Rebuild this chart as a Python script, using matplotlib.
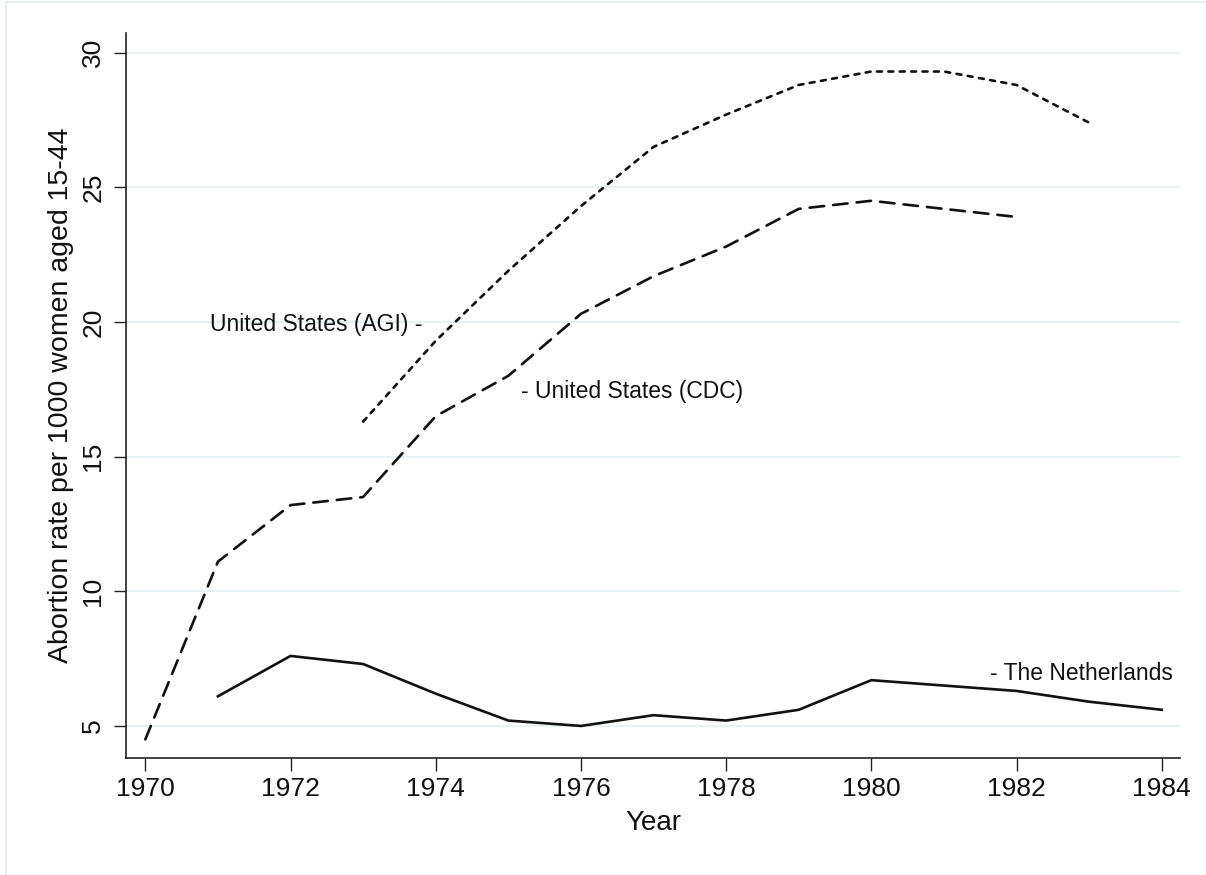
import matplotlib
matplotlib.use("Agg")
import matplotlib.pyplot as plt
from matplotlib.lines import Line2D

plt.rcParams['font.family'] = ['Liberation Sans', 'DejaVu Sans']
plt.rcParams['lines.scale_dashes'] = False

# Data
nl_years = list(range(1971, 1985))
nl_rate = [6.1, 7.6, 7.3, 6.2, 5.2, 5.0, 5.4, 5.2, 5.6, 6.7, 6.5, 6.3, 5.9, 5.6]
cdc_years = list(range(1970, 1983))
cdc_rate = [4.5, 11.1, 13.2, 13.5, 16.5, 18.0, 20.3, 21.7, 22.8, 24.2, 24.5, 24.2, 23.9]
agi_years = list(range(1973, 1984))
agi_rate = [16.3, 19.3, 21.9, 24.3, 26.5, 27.7, 28.8, 29.3, 29.3, 28.8, 27.4]

x_ticks = list(range(1970, 1985, 2))
y_ticks = [5, 10, 15, 20, 25, 30]

fig = plt.figure(figsize=(12.06, 8.75), dpi=100)
fig.patch.set_facecolor('white')

# faint outer frame of the graph region
border = '#E3EBEE'
fig.add_artist(Line2D([6/1206, 6/1206], [0, 1 - 2/875], color=border, lw=1.2))
fig.add_artist(Line2D([6/1206, 1], [1 - 2/875, 1 - 2/875], color=border, lw=1.2))

ax = fig.add_axes([126/1206, 1 - 758/875, (1180 - 126)/1206, (758 - 33)/875])

ink = '#111111'
ax.plot(nl_years, nl_rate, color=ink, lw=1.9, solid_joinstyle='round')
ax.plot(cdc_years, cdc_rate, color=ink, lw=1.9, linestyle=(0, (10.5, 6.5)),
        dash_capstyle='round', dash_joinstyle='round')
ax.plot(agi_years, agi_rate, color=ink, lw=1.9, linestyle=(0, (3.6, 4.6)),
        dash_capstyle='round', dash_joinstyle='round')

ax.set_xlim(1969.734, 1984.252)
ax.set_ylim(3.81, 30.73)
ax.set_xticks(x_ticks)
ax.set_yticks(y_ticks)

ax.yaxis.grid(True, color='#EAF1F4', lw=1.6)
ax.set_axisbelow(True)

for s in ['top', 'right']:
    ax.spines[s].set_visible(False)
for s in ['left', 'bottom']:
    ax.spines[s].set_color('#222222')
    ax.spines[s].set_linewidth(1.2)

ax.tick_params(axis='both', length=9, width=1.0, color='#222222',
               labelsize=19, labelcolor=ink, direction='out')
ax.tick_params(axis='x', pad=5)
ax.tick_params(axis='y', pad=6)
for lab in ax.get_yticklabels():
    lab.set_rotation(90)
    lab.set_va('center')

ax.set_xlabel('Year', fontsize=20, color=ink)
ax.set_ylabel('Abortion rate per 1000 women aged 15-44', fontsize=20.5, color=ink)
ax.xaxis.set_label_coords(0.5, -0.0717)
ax.yaxis.set_label_coords(-0.0493, 0.5)

ax.text(1973.81, 19.89, 'United States (AGI) -', fontsize=16.5, color=ink,
        ha='right', va='center')
ax.text(1975.17, 17.41, '- United States (CDC)', fontsize=16.5, color=ink,
        ha='left', va='center')
ax.text(1981.64, 6.96, '- The Netherlands', fontsize=16.5, color=ink,
        ha='left', va='center')

fig.savefig('out.png', dpi=100)
